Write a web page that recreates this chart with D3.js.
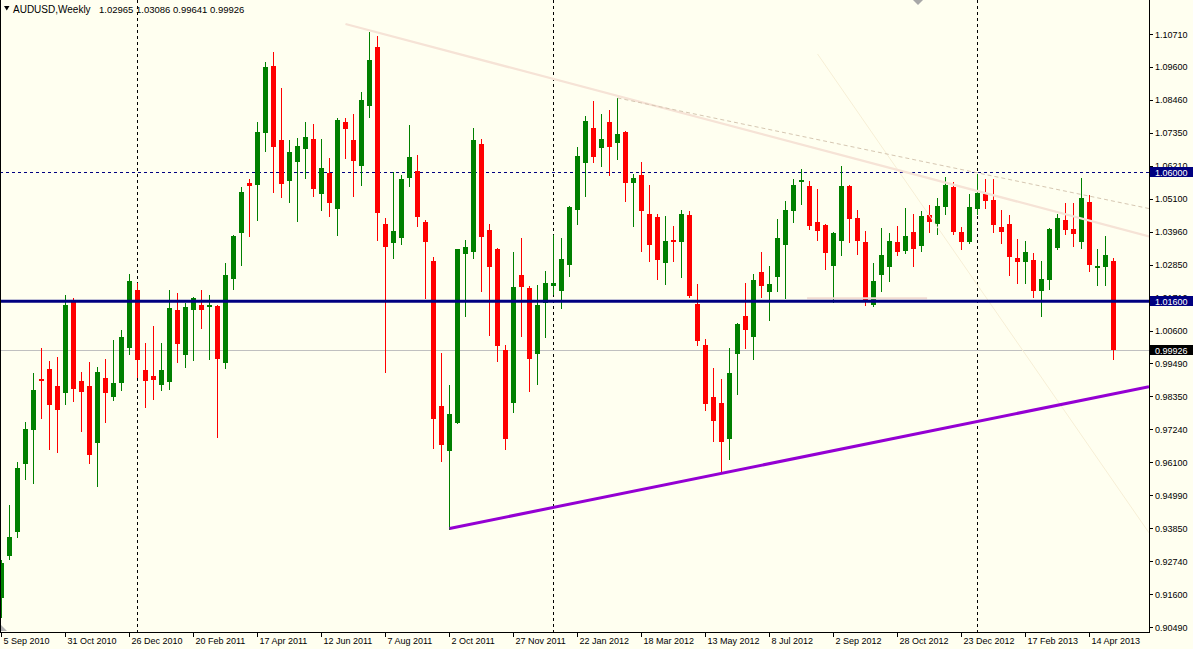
<!DOCTYPE html>
<html><head><meta charset="utf-8">
<script src="https://cdn.jsdelivr.net/npm/d3@7"></script>
<style>html,body{margin:0;padding:0;background:#fffff0;overflow:hidden}text{font-family:"Liberation Sans",Arial,sans-serif}</style>
</head><body><svg id="c" width="1193" height="649"></svg>
<script>
// ---- data (AUDUSD weekly, first bar = week of 5 Sep 2010) ----
const firstWeek = "2010-09-05";
const open = [0.9149,0.9291,0.9374,0.9606,0.9722,0.9895,0.9929,0.9871,0.9848,1.0156,
0.9888,0.9871,0.9677,0.9898,0.9834,0.9882,1.0001,1.0198,0.9925,0.9905,
0.9874,0.9884,1.0130,0.9976,1.0131,1.0147,1.0141,1.0145,0.9950,1.0237,
1.0394,1.0563,1.0557,1.0734,1.0962,1.0710,1.0571,1.0635,1.0680,1.0713,
1.0526,1.0598,1.0475,1.0771,1.0710,1.0622,1.0826,1.1027,1.0423,1.0359,
1.0376,1.0581,1.0604,1.0430,1.0297,0.9803,0.9650,0.9746,1.0322,1.0329,
1.0696,1.0403,1.0338,0.9993,0.9814,1.0249,1.0205,0.9981,1.0155,1.0213,
1.0196,1.0284,1.0472,1.0632,1.0750,1.0683,1.0771,1.0700,1.0737,1.0564,
1.0590,1.0457,1.0447,1.0291,1.0369,1.0363,1.0454,1.0151,1.0012,0.9834,
0.9814,0.9691,0.9981,1.0110,1.0039,1.0260,1.0192,1.0243,1.0353,1.0468,
1.0567,1.0553,1.0430,1.0420,1.0281,1.0366,1.0554,1.0444,1.0362,1.0148,
1.0250,1.0278,1.0362,1.0332,1.0396,1.0349,1.0454,1.0424,1.0482,1.0549,
1.0397,1.0362,1.0474,1.0525,1.0505,1.0413,1.0423,1.0307,1.0295,1.0300,
1.0195,1.0233,1.0342,1.0437,1.0406,1.0363,1.0498,1.0274,1.0275,1.02965];
const high = [0.9277,0.9465,0.9611,0.9747,0.9915,1.0000,0.9957,0.9970,1.0181,1.0171,
0.9918,0.9953,0.9934,0.9963,1.0028,1.0062,1.0253,1.0221,1.0017,1.0075,
1.0017,1.0198,1.0188,1.0153,1.0174,1.0198,1.0181,1.0147,1.0290,1.0386,
1.0550,1.0577,1.0771,1.0976,1.1010,1.0887,1.0710,1.0716,1.0771,1.0764,
1.0713,1.0649,1.0786,1.0786,1.0798,1.0874,1.1078,1.1064,1.0443,1.0601,
1.0590,1.0761,1.0658,1.0437,1.0312,0.9982,0.9873,1.0338,1.0369,1.0750,
1.0713,1.0423,1.0342,1.0010,1.0328,1.0376,1.0212,1.0215,1.0263,1.0386,
1.0375,1.0484,1.0686,1.0791,1.0843,1.0798,1.0812,1.0853,1.0740,1.0595,
1.0635,1.0557,1.0457,1.0450,1.0416,1.0471,1.0467,1.0219,1.0032,0.9933,
0.9896,1.0001,1.0087,1.0223,1.0254,1.0329,1.0281,1.0440,1.0503,1.0577,
1.0611,1.0570,1.0542,1.0423,1.0397,1.0621,1.0557,1.0471,1.0400,1.0290,
1.0409,1.0393,1.0416,1.0478,1.0457,1.0467,1.0488,1.0512,1.0583,1.0565,
1.0413,1.0525,1.0594,1.0577,1.0577,1.0471,1.0454,1.0372,1.0365,1.0325,
1.0297,1.0409,1.0457,1.0495,1.0495,1.0580,1.0522,1.0339,1.0382,1.03086];
const low = [0.9084,0.9282,0.9357,0.9555,0.9539,0.9763,0.9656,0.9647,0.9809,0.9821,
0.9718,0.9607,0.9531,0.9748,0.9823,0.9857,0.9980,0.9902,0.9800,0.9826,
0.9857,0.9861,0.9953,0.9935,0.9959,1.0069,0.9963,0.9698,0.9933,1.0200,
1.0284,1.0383,1.0438,1.0673,1.0533,1.0516,1.0499,1.0434,1.0581,1.0520,
1.0472,1.0451,1.0387,1.0649,1.0520,1.0557,1.0789,1.0370,0.9919,1.0308,
1.0356,1.0554,1.0417,1.0172,0.9660,0.9616,0.9384,0.9746,1.0110,1.0308,
1.0196,1.0046,0.9957,0.9657,0.9783,1.0042,0.9855,0.9879,1.0039,1.0185,
1.0138,1.0247,1.0424,1.0520,1.0635,1.0622,1.0591,1.0646,1.0503,1.0417,
1.0332,1.0298,1.0237,1.0220,1.0298,1.0243,1.0175,1.0012,0.9790,0.9684,
0.9578,0.9623,0.9844,1.0001,0.9964,1.0175,1.0097,1.0196,1.0172,1.0431,
1.0492,1.0407,1.0370,1.0271,1.0158,1.0318,1.0363,1.0322,1.0148,1.0145,
1.0196,1.0230,1.0318,1.0325,1.0281,1.0332,1.0397,1.0390,1.0456,1.0389,
1.0339,1.0359,1.0457,1.0479,1.0397,1.0357,1.0250,1.0223,1.0223,1.0175,
1.0110,1.0202,1.0339,1.0389,1.0349,1.0342,1.0264,1.0216,1.0216,0.99641];
const close = [0.9268,0.9357,0.9592,0.9724,0.9857,0.9887,0.9807,0.9790,1.0147,0.9861,
0.9851,0.9636,0.9918,0.9848,0.9881,1.0038,1.0229,0.9960,0.9889,0.9892,
0.9925,1.0137,1.0015,1.0140,1.0171,1.0131,1.0147,0.9963,1.0249,1.0382,
1.0532,1.0554,1.0737,1.0958,1.0687,1.0561,1.0669,1.0689,1.0720,1.0543,
1.0614,1.0496,1.0778,1.0748,1.0639,1.0846,1.0982,1.0462,1.0346,1.0399,
1.0577,1.0652,1.0448,1.0363,0.9759,0.9671,0.9775,1.0338,1.0345,1.0710,
1.0380,1.0278,1.0008,0.9691,1.0208,1.0209,0.9964,1.0147,1.0222,1.0222,
1.0304,1.0481,1.0655,1.0774,1.0653,1.0713,1.0687,1.0730,1.0564,1.0580,
1.0468,1.0353,1.0301,1.0366,1.0363,1.0457,1.0179,1.0025,0.9810,0.9752,
0.9681,0.9916,1.0083,1.0063,1.0233,1.0213,1.0220,1.0375,1.0471,1.0556,
1.0573,1.0416,1.0400,1.0325,1.0394,1.0553,1.0441,1.0366,1.0165,1.0229,
1.0317,1.0365,1.0329,1.0382,1.0339,1.0450,1.0431,1.0484,1.0557,1.0396,
1.0363,1.0481,1.0529,1.0503,1.0421,1.0397,1.0312,1.0295,1.0328,1.0195,
1.0236,1.0406,1.0444,1.0403,1.0389,1.0512,1.0284,1.0280,1.0317,0.99926];
const dateLabels = ["5 Sep 2010","31 Oct 2010","26 Dec 2010","20 Feb 2011","17 Apr 2011","12 Jun 2011",
"7 Aug 2011","2 Oct 2011","27 Nov 2011","22 Jan 2012","18 Mar 2012","13 May 2012","8 Jul 2012",
"2 Sep 2012","28 Oct 2012","23 Dec 2012","17 Feb 2013","14 Apr 2013"];
const priceTicks = ["1.10710","1.09600","1.08460","1.07350","1.06210","1.05100","1.03960","1.02850",
"1.01710","1.00600","0.99490","0.98350","0.97240","0.96100","0.94990","0.93850","0.92740","0.91600","0.90490"];
const titleParts = ["AUDUSD,Weekly","1.02965","1.03086","0.99641","0.99926"];
// horizontal levels: [price, label box colour]
const resistanceLevel = 1.06000;
const supportLevel = 1.01600;
const bidLevel = 0.99926;
// trend lines: anchors as [bar index, price]
const supportTrend = [[56, 0.9385], [139, 0.9844]];
const upperTrend = [[43, 1.1105], [139, 1.0413]];
const dashedTrend = [[77, 1.0853], [139, 1.0501]];
const faintTrend = [[102, 1.1003], [139, 0.9545]];
const paleSegment = [[100.7, 1.0170], [115.7, 1.0170]];

// ---- scales ----
const W = 1193, H = 649, plotR = 1149, plotB = 632;
const n = open.length;
const t0 = new Date(firstWeek + "T00:00:00Z");
const dates = d3.range(n).map(i => d3.utcDay.offset(t0, 7 * i));
const x = d3.scaleUtc().domain([dates[0], dates[n - 1]]).range([1.5, 1113.5]);
const xi = i => x(new Date(t0.getTime() + i * 7 * 864e5));
const y = d3.scaleLinear().domain([0.90490, 1.10710]).range([627, 34]);

const svg = d3.select("#c");
svg.append("rect").attr("width", W).attr("height", H).attr("fill", "#fffff0");
svg.append("clipPath").attr("id", "clip").append("rect").attr("x", 0).attr("y", 0).attr("width", plotR).attr("height", plotB);
const plot = svg.append("g").attr("clip-path", "url(#clip)");

// year separators
const seps = d3.range(1, n).filter(i => dates[i].getUTCFullYear() !== dates[i - 1].getUTCFullYear());
plot.selectAll("line.sep").data(seps).join("line").attr("class", "sep")
  .attr("x1", i => x(dates[i])).attr("x2", i => x(dates[i]))
  .attr("y1", 0).attr("y2", plotB).attr("stroke", "#000").attr("stroke-dasharray", "3,3")
  .attr("shape-rendering", "crispEdges");

// 1.06 dashed level and bid line (behind candles)
const ry = Math.round(y(resistanceLevel)) + 0.5;
plot.append("line").attr("x1", 0).attr("x2", plotR).attr("y1", ry).attr("y2", ry)
  .attr("stroke", "#000080").attr("stroke-dasharray", "3,3").attr("shape-rendering", "crispEdges");
const by = Math.round(y(bidLevel)) + 0.5;
plot.append("line").attr("x1", 0).attr("x2", plotR).attr("y1", by).attr("y2", by)
  .attr("stroke", "#c0c0c0").attr("shape-rendering", "crispEdges");

// candles
const idx = d3.range(n);
const col = i => close[i] >= open[i] ? "#008000" : "#ff0000";
const cg = plot.append("g").attr("shape-rendering", "crispEdges");
cg.selectAll("line.w").data(idx).join("line").attr("class", "w")
  .attr("x1", i => x(dates[i])).attr("x2", i => x(dates[i]))
  .attr("y1", i => Math.round(y(high[i]))).attr("y2", i => Math.round(y(low[i])) + 1)
  .attr("stroke", col).attr("stroke-width", 1);
cg.selectAll("rect.b").data(idx).join("rect").attr("class", "b")
  .attr("x", i => x(dates[i]) - 2.5).attr("width", 5)
  .attr("y", i => Math.round(y(Math.max(open[i], close[i]))))
  .attr("height", i => Math.max(1, Math.round(y(Math.min(open[i], close[i]))) - Math.round(y(Math.max(open[i], close[i])))))
  .attr("fill", col);

// objects drawn over candles
function ray(a, b) {
  const x1 = xi(a[0]), y1 = y(a[1]), x2 = xi(b[0]), y2 = y(b[1]);
  const s = (y2 - y1) / (x2 - x1);
  return [x1, y1, plotR, y1 + s * (plotR - x1)];
}
function drawRay(a, b, stroke, w, dash) {
  const r = ray(a, b);
  const l = plot.append("line").attr("x1", r[0]).attr("y1", r[1]).attr("x2", r[2]).attr("y2", r[3])
    .attr("stroke", stroke).attr("stroke-width", w);
  if (dash) l.attr("stroke-dasharray", dash);
}
drawRay(faintTrend[0], faintTrend[1], "#f7efd6", 1);
drawRay(upperTrend[0], upperTrend[1], "#f6e3d6", 2.2);
drawRay(dashedTrend[0], dashedTrend[1], "#d6c7b2", 1, "4,3");
plot.append("line").attr("x1", xi(paleSegment[0][0])).attr("x2", xi(paleSegment[1][0]))
  .attr("y1", y(paleSegment[0][1])).attr("y2", y(paleSegment[1][1])).attr("stroke", "#f2dcd2").attr("stroke-width", 2);
const sy = y(supportLevel);
plot.append("line").attr("x1", 0).attr("x2", plotR).attr("y1", sy).attr("y2", sy)
  .attr("stroke", "#000080").attr("stroke-width", 3);
{
  const a = supportTrend[0], r = ray(supportTrend[0], supportTrend[1]);
  plot.append("line").attr("x1", xi(a[0])).attr("y1", y(a[1])).attr("x2", r[2]).attr("y2", r[3])
    .attr("stroke", "#9400d3").attr("stroke-width", 3);
}

// frame
const fr = svg.append("g").attr("shape-rendering", "crispEdges").attr("stroke", "#000");
fr.append("line").attr("x1", 0.5).attr("x2", 0.5).attr("y1", 0).attr("y2", plotB + 0.5);
fr.append("line").attr("x1", plotR + 0.5).attr("x2", plotR + 0.5).attr("y1", 0).attr("y2", plotB + 0.5);
fr.append("line").attr("x1", 0).attr("x2", plotR + 1).attr("y1", plotB + 0.5).attr("y2", plotB + 0.5);

// x axis labels (every 8 weeks)
const xt = dateLabels.map((s, k) => ({ s, i: 8 * k }));
const xg = svg.append("g");
xg.selectAll("line").data(xt).join("line")
  .attr("x1", d => x(dates[d.i])).attr("x2", d => x(dates[d.i]))
  .attr("y1", plotB).attr("y2", plotB + 5).attr("stroke", "#000").attr("shape-rendering", "crispEdges");
xg.selectAll("text").data(xt).join("text")
  .attr("x", d => x(dates[d.i]) + 2).attr("y", 644).attr("font-size", 9).attr("fill", "#000").text(d => d.s);

// y axis labels
const yg = svg.append("g");
yg.selectAll("line").data(priceTicks).join("line")
  .attr("x1", plotR + 1).attr("x2", plotR + 4)
  .attr("y1", d => Math.round(y(+d)) + 0.5).attr("y2", d => Math.round(y(+d)) + 0.5)
  .attr("stroke", "#000").attr("shape-rendering", "crispEdges");
yg.selectAll("text").data(priceTicks).join("text")
  .attr("x", 1155).attr("y", d => y(+d) + 3.5).attr("font-size", 9).attr("fill", "#000").text(d => d);

// highlighted price boxes
const boxes = [[resistanceLevel, "#000080", "1.06000"], [supportLevel, "#000080", "1.01600"], [bidLevel, "#000000", "0.99926"]];
boxes.forEach(([v, c, s]) => {
  const cy = y(v);
  svg.append("rect").attr("x", plotR + 1).attr("y", Math.round(cy) - 5).attr("width", W - plotR - 1).attr("height", 10).attr("fill", c);
  svg.append("text").attr("x", 1155).attr("y", cy + 3.5).attr("font-size", 9).attr("fill", "#fff").text(s);
});

// title
svg.append("path").attr("d", "M4,6 L9.5,6 L6.75,10.5 Z").attr("fill", "#000");
const tx = [13, 99, 136, 173, 210];
titleParts.forEach((s, k) => {
  svg.append("text").attr("x", tx[k]).attr("y", 13).attr("font-size", k === 0 ? 10 : 9.5).attr("fill", "#000").text(s);
});
// chart shift markers
svg.append("path").attr("d", "M913,0 L923,0 L918,5 Z").attr("fill", "#a8a8a8");
svg.append("path").attr("d", "M1,625 L1,631 L7,631 Z").attr("fill", "#b0b0b0");
</script></body></html>
